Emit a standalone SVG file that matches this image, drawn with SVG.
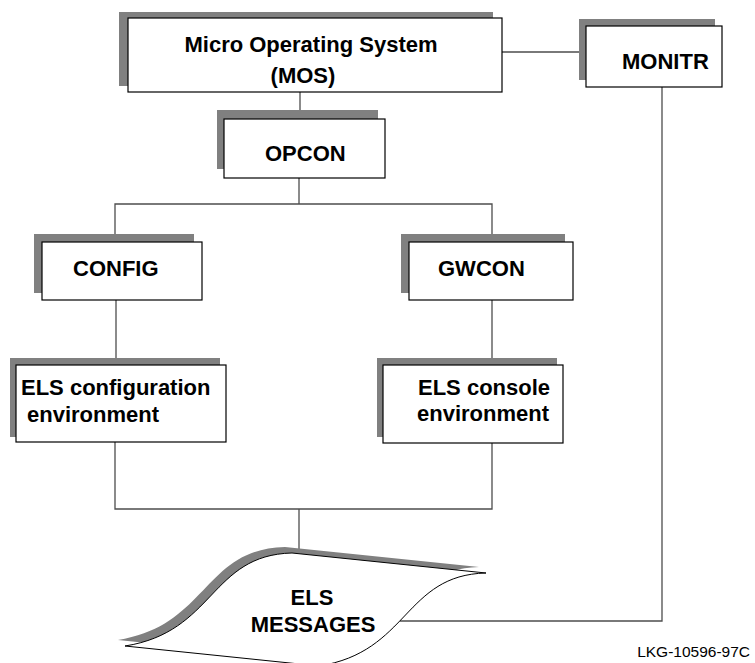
<svg xmlns="http://www.w3.org/2000/svg" width="755" height="663" viewBox="0 0 755 663">
  <style>
    .shadow { fill: #808080; stroke: none; }
    .box { fill: #ffffff; stroke: #000000; stroke-width: 1.2; }
    .wire { fill: none; stroke: #4d4d4d; stroke-width: 1.3; }
    .lbl { font-family: "Liberation Sans", Arial, Helvetica, sans-serif; font-weight: bold; font-size: 22px; fill: #000000; }
    .mid { text-anchor: middle; }
    .tag { font-family: "Liberation Sans", Arial, Helvetica, sans-serif; font-size: 15.5px; fill: #000000; text-anchor: end; }
  </style>
  <defs>
    <!-- wavy sheet: S-curve on the upper-left and lower-right sides -->
    <path id="sheet" d="M125,646 C215,632 210,555 292,553 L486,573 C404,575 409,652 319,666 Z"/>
  </defs>

  <g id="connectors">
    <line class="wire" x1="300" y1="92" x2="300" y2="110"/>
    <line class="wire" x1="299" y1="178" x2="299" y2="204"/>
    <polyline class="wire" points="115,234 115,204 492,204 492,234"/>
    <line class="wire" x1="116" y1="300" x2="116" y2="358"/>
    <line class="wire" x1="492" y1="300" x2="492" y2="358"/>
    <polyline class="wire" points="115,442 115,509 492,509 492,443"/>
    <line class="wire" x1="299" y1="509" x2="299" y2="549"/>
    <line class="wire" x1="502" y1="52" x2="580" y2="52"/>
    <polyline class="wire" points="662,87 662,621 400,621"/>
  </g>

  <g id="mos">
    <rect class="shadow" x="119" y="12" width="374" height="74"/>
    <rect class="box" x="128" y="18" width="374" height="74"/>
    <text class="lbl mid" x="311" y="52">Micro Operating System</text>
    <text class="lbl mid" x="303" y="83">(MOS)</text>
  </g>

  <g id="monitr">
    <rect class="shadow" x="579" y="19" width="136" height="61"/>
    <rect class="box" x="586" y="26" width="136" height="61"/>
    <text class="lbl" x="622" y="69">MONITR</text>
  </g>

  <g id="opcon">
    <rect class="shadow" x="217" y="110" width="161" height="59"/>
    <rect class="box" x="224" y="119" width="161" height="59"/>
    <text class="lbl" x="265" y="161">OPCON</text>
  </g>

  <g id="config">
    <rect class="shadow" x="34" y="234" width="160" height="59"/>
    <rect class="box" x="42" y="242" width="160" height="58"/>
    <text class="lbl" x="73" y="276">CONFIG</text>
  </g>

  <g id="gwcon">
    <rect class="shadow" x="401" y="234" width="164" height="59"/>
    <rect class="box" x="409" y="242" width="164" height="58"/>
    <text class="lbl" x="438" y="276">GWCON</text>
  </g>

  <g id="els-config">
    <rect class="shadow" x="10" y="358" width="210" height="79"/>
    <rect class="box" x="16" y="365" width="210" height="77"/>
    <text class="lbl" x="21" y="395">ELS configuration</text>
    <text class="lbl" x="27" y="422">environment</text>
  </g>

  <g id="els-console">
    <rect class="shadow" x="377" y="358" width="180" height="79"/>
    <rect class="box" x="383" y="365" width="180" height="78"/>
    <text class="lbl" x="418" y="395">ELS console</text>
    <text class="lbl" x="417" y="421">environment</text>
  </g>

  <g id="els-messages">
    <use href="#sheet" transform="translate(-7,-6)" class="shadow"/>
    <use href="#sheet" class="box" style="stroke-width:1"/>
    <text class="lbl mid" x="312" y="605">ELS</text>
    <text class="lbl mid" x="313" y="632">MESSAGES</text>
  </g>

  <text class="tag" x="750" y="657">LKG-10596-97C</text>
</svg>
